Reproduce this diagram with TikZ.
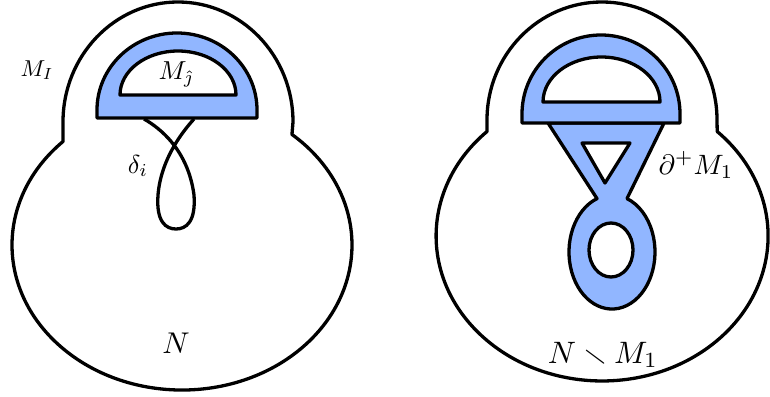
\documentclass[tikz,border=0pt]{standalone}
\usepackage{amsmath, amssymb}
\usepackage{tikz}
\definecolor{handle}{RGB}{145,182,255}

\begin{document}
\begin{tikzpicture}[x=1pt, y=-1pt,
    bound/.style={line width=3.3pt, line join=round},
    band/.style={bound, fill=handle},
    hole/.style={bound, fill=white},
    lbl/.style={inner sep=0pt, scale=#1},
    lbl/.default=2.6
]
\useasboundingbox (0,0) rectangle (770,396);

% Left picture: N with the arc delta_i
\draw[bound] (63,141.5) arc[start angle=225.57, end angle=-49.7, x radius=170, y radius=145]
    -- (293,122) arc[start angle=0, end angle=-180, x radius=115, y radius=120] -- cycle;
\draw[band] (97,118) -- (97,110) arc[start angle=180, end angle=360, x radius=80, y radius=77]
    -- (257,118) -- cycle;
\draw[hole] (120,95) arc[start angle=180, end angle=360, x radius=58, y radius=44] -- cycle;
\draw[bound] (144,119) .. controls (160,128) and (188,150) .. (194,195)
    .. controls (196,222) and (186,229) .. (176,229)
    .. controls (166,229) and (156,222) .. (158,195)
    .. controls (161,158) and (184,130) .. (194,119);

\node[lbl=2.3] (mi) at (37,70) {$M_I$};
\node[lbl] (mj) at (176,74) {$M_{\hat\jmath}$};
\node[lbl] (delta) at (138,166) {$\delta_i$};
\node[lbl=3.0] (n) at (176,343) {$N$};

% Right picture: N minus M_1
\draw[bound] (487,131.5) arc[start angle=226.1, end angle=-46.1, x radius=166, y radius=145]
    -- (717,120) arc[start angle=0, end angle=-180, x radius=115, y radius=118] -- cycle;
\draw[band] (548,123) -- (597,198.6) arc[start angle=249.6, end angle=-69.6, x radius=43, y radius=57]
    -- (664,123) -- cycle;
\draw[hole] (582,143) -- (630,143) -- (605,183) -- cycle;
\draw[hole] (611,250) ellipse[x radius=22, y radius=27];
\draw[band] (522,123) -- (522,114) arc[start angle=180, end angle=360, x radius=79, y radius=79]
    -- (680,123) -- cycle;
\draw[hole] (543,102) arc[start angle=180, end angle=360, x radius=58.5, y radius=45] -- cycle;

\node[lbl=2.8] (dm) at (696,165) {$\partial^+M_1$};
\node[lbl=3.1] (nm) at (603,355) {$N\smallsetminus M_1$};

\end{tikzpicture}
\end{document}
